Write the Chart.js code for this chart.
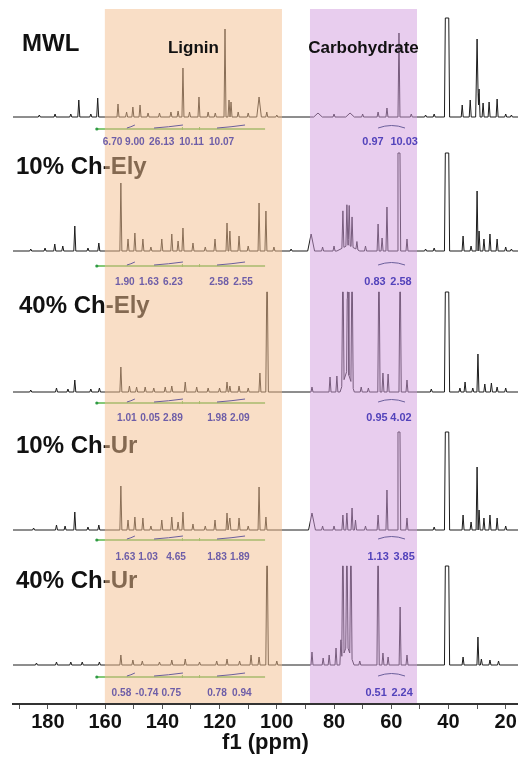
<!DOCTYPE html>
<html>
<head>
<meta charset="utf-8">
<script src="https://cdn.jsdelivr.net/npm/chart.js@4.4.1/dist/chart.umd.min.js"></script>
<style>
  html, body { margin: 0; padding: 0; background: #fff; }
  canvas { display: block; }
</style>
</head>
<body>
<canvas id="nmr" width="518" height="762"></canvas>
<script>
// ---- data (ppm, visible height, half width in ppm, flat-top half width) ----
const samples = ['MWL', '10% Ch-Ely', '40% Ch-Ely', '10% Ch-Ur', '40% Ch-Ur'];

const peaksMWL = [
  [183, 2], [177.5, 3], [172, 3], [169.2, 17], [165, 3], [162.6, 19],
  [155.5, 13], [152.5, 5], [150.3, 10], [147.8, 12], [145, 4], [141, 4], [137, 5], [134.5, 6],
  [132.8, 49], [130.5, 5], [127.2, 20], [124, 5], [121.5, 4], [118.1, 88], [116.7, 17], [116.0, 15],
  [113.5, 5], [110, 4], [106.2, 20, 0.8], [103.5, 5], [100, 2],
  [85.6, 4, 1.5], [80, 3], [74.4, 4, 1.5], [70, 3], [64.6, 5], [61.5, 9], [57.3, 84], [53, 3],
  [48, 2], [45, 3], [40.5, 99, 0.9, 0.6], [35.2, 12], [32.4, 17], [30.0, 78, 0.5], [29.3, 28], [27.9, 14],
  [25.8, 15], [23.0, 18], [20, 3], [18, 2]
];
const peaksEly10 = [
  [186, 2], [181, 3], [177.6, 7], [174.8, 5], [170.6, 25], [166, 3], [162.2, 8],
  [154.5, 68], [152, 12], [149.6, 18], [146.8, 12], [144, 4], [140.2, 12], [136.7, 17], [134.5, 10],
  [132.8, 23], [129.3, 8], [125, 4], [121.6, 12], [117.4, 28], [116.4, 20], [113.2, 15], [110, 5],
  [106.2, 48], [103.8, 40], [101, 4], [95, 2],
  [88, 17, 1.2], [84, 4], [80, 5], [76.9, 37], [75.5, 41], [74.7, 40], [73.7, 30], [75, 6, 4],
  [72, 8], [69, 5], [64.6, 27], [63.2, 13], [61.5, 44], [57.3, 98, 0.6, 0.35], [54.5, 12],
  [48, 2], [45, 3], [40.5, 98, 0.9, 0.6], [34.9, 15], [32.1, 5], [30.0, 60], [29.3, 20], [27.6, 12],
  [25.5, 17], [23, 12], [20, 4], [18, 2]
];
const peaksEly40 = [
  [186, 2], [177, 4], [173, 3], [170.6, 12], [165, 3], [162, 4],
  [154.5, 25], [151.5, 6], [149, 5], [146, 5], [143, 4], [139, 5], [136.7, 6], [132, 10], [128, 5],
  [124, 4], [120, 4], [117.4, 10], [116.4, 6], [113.2, 6], [110, 4], [105.9, 19], [103.4, 100, 0.45, 0.12],
  [87.7, 5], [81.4, 15], [79, 16], [76.9, 100, 0.4, 0.12], [75.2, 100, 0.4, 0.12], [73.7, 100, 0.4, 0.12],
  [75.4, 22, 2.5], [70.5, 5], [68, 4], [64.3, 100, 0.4, 0.12], [62.9, 19], [61.1, 18],
  [56.9, 100, 0.4, 0.12], [54.5, 12],
  [46, 3], [40.5, 100, 0.9, 0.6], [36, 4], [34.2, 10], [31.5, 4], [29.7, 38], [27.3, 8], [25, 9],
  [23, 5], [20, 4]
];
const peaksUr10 = [
  [185, 2], [177, 5], [174, 4], [170.6, 18], [166, 3], [162.2, 5],
  [154.5, 44], [152, 10], [149.6, 13], [146.8, 12], [144, 4], [140.2, 10], [136.7, 13], [134.5, 8],
  [132.8, 18], [129.3, 6], [125, 4], [121.6, 10], [117.4, 17], [116.4, 12], [113.2, 12], [110, 4],
  [106.2, 43], [103.8, 13],
  [87.7, 17, 1.2], [84, 4], [80, 4], [76.9, 15], [75.5, 17], [73.7, 22], [72.5, 10], [69, 4],
  [64.6, 15], [61.5, 40], [57.3, 98, 0.6, 0.35], [54.5, 12],
  [45, 3], [40.5, 98, 0.9, 0.6], [34.9, 15], [32.1, 8], [30.0, 63], [29.3, 20], [27.6, 12],
  [25.5, 15], [23, 12], [20, 4]
];
const peaksUr40 = [
  [184, 2], [177, 3], [172, 3], [168, 3], [162, 3],
  [154.5, 10], [150.3, 5], [147, 4], [141, 3], [136.7, 5], [132, 6], [127, 3], [121, 4], [117.4, 6],
  [113, 4], [109, 10], [106.2, 8], [103.4, 99, 0.45, 0.12], [100, 4],
  [87.7, 13], [83.8, 7], [81.7, 10], [79.3, 17], [77.6, 22], [76.9, 99, 0.4, 0.12], [75.5, 99, 0.4, 0.12],
  [74.1, 99, 0.4, 0.12], [75.5, 20, 2.5], [71, 4], [64.6, 99, 0.4, 0.12], [62.9, 12], [61.1, 8],
  [56.9, 58], [54.5, 10],
  [40.5, 99, 0.9, 0.6], [34.9, 8], [29.7, 28], [28.5, 6], [25.5, 5], [22.5, 4]
];
const spectra = [peaksMWL, peaksEly10, peaksEly40, peaksUr10, peaksUr40];
const clipHeights = [99, 98, 100, 98, 99];

// integration values, [ppm of label centre, text]
const ligninValues = [
  [[157.4, '6.70'], [149.6, '9.00'], [140.2, '26.13'], [129.8, '10.11'], [119.3, '10.07']],
  [[153.1, '1.90'], [144.7, '1.63'], [136.3, '6.23'], [120.2, '2.58'], [111.8, '2.55']],
  [[152.4, '1.01'], [144.3, '0.05'], [136.3, '2.89'], [120.9, '1.98'], [112.9, '2.09']],
  [[152.9, '1.63'], [145.0, '1.03'], [135.2, '4.65'], [120.9, '1.83'], [112.9, '1.89']],
  [[154.3, '0.58'], [145.4, '-0.74'], [136.9, '0.75'], [120.9, '0.78'], [112.2, '0.94']]
];
const carbValues = [
  [[66.4, '0.97'], [55.5, '10.03']],
  [[65.7, '0.83'], [56.6, '2.58']],
  [[65.0, '0.95'], [56.6, '4.02']],
  [[64.6, '1.13'], [55.5, '3.85']],
  [[65.3, '0.51'], [56.2, '2.24']]
];
const integralSpan = [162.9, 104.1];
const ligninRanges = [[152.4, 149.6], [142.9, 132.8], [120.9, 111.1]];
const carbRanges = [[64.6, 55.2]];

const regions = ['Lignin', 'Carbohydrate'];
const regionRanges = [[160.1, 98.2], [88.4, 51.0]];
const regionColors = ['rgba(243,190,144,0.51)', 'rgba(209,155,221,0.5)'];

const axisMin = 15.7, axisMax = 192.2;

// ---- layout (pixels) ----
const PLOT_BOTTOM = 704;
const SHADE_TOP = 9;
const panels = [
  { base: 117, nameX: 22, nameY: 51, intY: 129, labelY: 145 },
  { base: 251, nameX: 16, nameY: 174, intY: 266, labelY: 285 },
  { base: 392, nameX: 19, nameY: 313, intY: 403, labelY: 421 },
  { base: 530, nameX: 16, nameY: 453, intY: 540, labelY: 560 },
  { base: 665, nameX: 16, nameY: 588, intY: 677, labelY: 696 }
];
const FONT = '"Liberation Sans", Arial, Helvetica, sans-serif';

function spectrumPoints(peaks, base, clip) {
  const xs = [axisMax, axisMin];
  peaks.forEach(([c, h, w = 0.35, t = 0]) => xs.push(c + w, c + t, c - t, c - w));
  const uniq = [...new Set(xs)].sort((a, b) => b - a);
  return uniq.map(x => {
    let s = 0;
    peaks.forEach(([c, h, w = 0.35, t = 0]) => {
      const d = Math.abs(x - c);
      if (d <= t) s += h;
      else if (d < w) s += h * (w - d) / (w - t);
    });
    return { x, y: base - Math.min(s, clip) };
  });
}

const datasets = spectra.map((peaks, i) => ({
  label: samples[i],
  data: spectrumPoints(peaks, panels[i].base, clipHeights[i]),
  borderColor: '#1c1c1c',
  borderWidth: 1,
  pointRadius: 0,
  tension: 0,
  fill: false
}));

function narrowText(ctx, text, px, py, squeeze) {
  ctx.save();
  ctx.translate(px, py);
  ctx.scale(squeeze, 1);
  ctx.fillText(text, 0, 0);
  ctx.restore();
}

const decor = {
  id: 'decor',
  beforeDatasetsDraw(chart) {
    const { ctx, scales: { x } } = chart;
    ctx.save();
    ctx.fillStyle = '#111';
    ctx.font = 'bold 24px ' + FONT;
    ctx.textBaseline = 'alphabetic';
    samples.forEach((s, i) => ctx.fillText(s, panels[i].nameX, panels[i].nameY));

    // integration baseline (green)
    panels.forEach(p => {
      ctx.strokeStyle = '#5cb84a';
      ctx.lineWidth = 1.5;
      ctx.beginPath();
      ctx.moveTo(x.getPixelForValue(integralSpan[0]), p.intY);
      ctx.lineTo(x.getPixelForValue(integralSpan[1]), p.intY);
      ctx.stroke();
      ctx.fillStyle = '#2f9a45';
      ctx.beginPath();
      ctx.arc(x.getPixelForValue(integralSpan[0]), p.intY, 1.6, 0, Math.PI * 2);
      ctx.fill();
      [133, 127].forEach(v => {
        const px = x.getPixelForValue(v);
        ctx.strokeStyle = '#5cb84a';
        ctx.lineWidth = 1;
        ctx.beginPath();
        ctx.moveTo(px, p.intY - 2);
        ctx.lineTo(px, p.intY + 1);
        ctx.stroke();
      });
    });
    ctx.restore();
  },
  afterDatasetsDraw(chart) {
    const { ctx, scales: { x }, chartArea } = chart;
    ctx.save();
    // shaded regions on top of spectra
    regionRanges.forEach(([a, b], i) => {
      const x0 = x.getPixelForValue(a), x1 = x.getPixelForValue(b);
      ctx.fillStyle = regionColors[i];
      ctx.fillRect(x0, SHADE_TOP, x1 - x0, chartArea.bottom - 1 - SHADE_TOP);
    });
    // region titles
    ctx.fillStyle = '#111';
    ctx.font = 'bold 17px ' + FONT;
    ctx.textAlign = 'center';
    regions.forEach((r, i) => {
      const c = (regionRanges[i][0] + regionRanges[i][1]) / 2;
      ctx.fillText(r, x.getPixelForValue(c), 53);
    });
    // integral curves and values
    panels.forEach((p, i) => {
      ctx.strokeStyle = '#6a5e9a';
      ctx.lineWidth = 1;
      ligninRanges.concat(carbRanges).forEach(([a, b], k) => {
        const xa = x.getPixelForValue(a), xb = x.getPixelForValue(b);
        const carb = k >= ligninRanges.length;
        ctx.beginPath();
        ctx.moveTo(xa, p.intY - 1);
        ctx.quadraticCurveTo((xa + xb) / 2, p.intY - (carb ? 6 : 2), xb, carb ? p.intY - 1 : p.intY - 4);
        ctx.stroke();
      });
      ctx.font = 'bold 11.5px ' + FONT;
      ctx.fillStyle = '#6e5ea8';
      ligninValues[i].forEach(([v, t]) => narrowText(ctx, t, x.getPixelForValue(v), p.labelY, 0.88));
      ctx.fillStyle = '#5343bb';
      carbValues[i].forEach(([v, t]) => narrowText(ctx, t, x.getPixelForValue(v), p.labelY, 0.95));
    });
    ctx.restore();
  }
};

new Chart(document.getElementById('nmr').getContext('2d'), {
  type: 'line',
  data: { datasets },
  options: {
    responsive: false,
    animation: false,
    devicePixelRatio: 1,
    parsing: false,
    layout: { padding: { left: 13, right: 0, top: 0, bottom: 0 } },
    plugins: { legend: { display: false }, tooltip: { enabled: false } },
    scales: {
      x: {
        type: 'linear',
        reverse: true,
        min: axisMin,
        max: axisMax,
        afterFit: s => { s.height = 58; },
        ticks: {
          stepSize: 10,
          includeBounds: false,
          autoSkip: false,
          maxRotation: 0,
          padding: 1,
          color: '#111',
          font: { family: FONT, size: 20, weight: 'bold' },
          callback: v => (v % 20 === 0 ? String(v) : '')
        },
        grid: { drawOnChartArea: false, tickLength: 5, color: '#555' },
        border: { color: '#333', width: 2 },
        title: {
          display: true,
          text: 'f1 (ppm)',
          color: '#111',
          font: { family: FONT, size: 22, weight: 'bold' },
          padding: { top: 0, bottom: 6 }
        }
      },
      y: { display: false, reverse: true, min: 0, max: PLOT_BOTTOM }
    }
  },
  plugins: [decor]
});
</script>
</body>
</html>
